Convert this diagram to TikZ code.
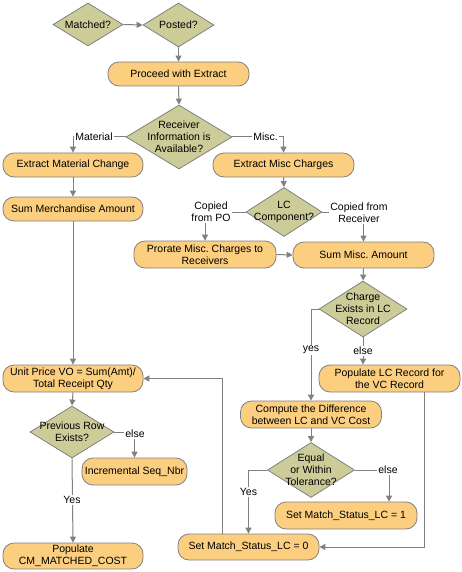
\documentclass[tikz,border=0pt]{standalone}
\usepackage{fontspec}
\setmainfont{Liberation Sans}
\usetikzlibrary{shapes.geometric,arrows.meta}
\definecolor{procfill}{RGB}{252,206,128}
\definecolor{decfill}{RGB}{204,204,153}
\definecolor{edgegray}{RGB}{128,128,128}
\frenchspacing
\begin{document}
\begin{tikzpicture}[x=1pt,y=-1pt,
  font=\fontsize{10.5}{12}\selectfont,
  proc/.style={draw=edgegray, fill=procfill, rounded corners=11pt, inner sep=0pt, align=center, line width=0.8pt},
  dec/.style={draw=edgegray, fill=decfill, diamond, inner sep=0pt, line width=0.8pt},
  arr/.style={draw=edgegray, line width=1pt, -{Triangle[width=6pt,length=6pt]}},
  lbl/.style={fill=white, inner sep=1pt, align=center}]
\useasboundingbox (0,0) rectangle (462,572);

% decisions
\node[dec, minimum width=70pt, minimum height=43pt, label={center:Matched?}] (matched) at (88,24.5) {};
\node[dec, minimum width=71pt, minimum height=44pt, label={center:Posted?}] (posted) at (178.5,25) {};
\node[dec, minimum width=106pt, minimum height=64pt, label={[align=center]center:Receiver\\Information is\\Available?}] (ria) at (179,137) {};
\node[dec, minimum width=76pt, minimum height=49pt, label={[align=center]center:LC\\Component?}] (lc) at (284,212) {};
\node[dec, minimum width=88pt, minimum height=56pt, label={[align=center]center:Charge\\Exists in LC\\Record}] (charge) at (363,309) {};
\node[dec, minimum width=87pt, minimum height=55pt, label={[align=center]center:Equal\\or Within\\Tolerance?}] (equal) at (311,470) {};
\node[dec, minimum width=84pt, minimum height=52pt, label={[align=center]center:Previous Row\\Exists?}] (prev) at (72,432) {};

% processes
\node[proc, minimum width=141pt, minimum height=24pt] (proceed) at (178.5,74) {Proceed with Extract};
\node[proc, minimum width=140pt, minimum height=24pt] (emc) at (73,165) {Extract Material Change};
\node[proc, minimum width=141pt, minimum height=24pt] (emisc) at (283.5,165) {Extract Misc Charges};
\node[proc, minimum width=140pt, minimum height=24pt] (summerch) at (73,209) {Sum Merchandise Amount};
\node[proc, minimum width=142pt, minimum height=27pt] (prorate) at (205,254.5) {Prorate Misc. Charges to\\Receivers};
\node[proc, minimum width=141pt, minimum height=26pt] (summisc) at (363.5,255) {Sum Misc. Amount};
\node[proc, minimum width=141pt, minimum height=27pt] (poplc) at (389.5,378.5) {Populate LC Record for\\the VC Record};
\node[proc, minimum width=140pt, minimum height=27pt] (unit) at (73,378.5) {Unit Price VO = Sum(Amt)/\\Total Receipt Qty};
\node[proc, minimum width=141pt, minimum height=27pt] (compute) at (311,414.5) {Compute the Difference\\between LC and VC Cost};
\node[proc, minimum width=105pt, minimum height=27pt] (inc) at (134.5,471.5) {Incremental Seq\_Nbr};
\node[proc, minimum width=142pt, minimum height=27pt] (set1) at (346,515.5) {Set Match\_Status\_LC = 1};
\node[proc, minimum width=141pt, minimum height=26pt] (set0) at (248.5,547) {Set Match\_Status\_LC = 0};
\node[proc, minimum width=140pt, minimum height=26pt] (popcm) at (73,556) {Populate\\CM\_MATCHED\_COST};

% connectors
\draw[arr] (matched.east) -- (posted.west);
\draw[arr] (posted.south) -- (proceed.north);
\draw[arr] (proceed.south) -- (ria.north);
\draw[arr] (ria.west) -| (emc.north);
\node[lbl] (lmat) at (94,137) {Material};
\draw[arr] (ria.east) -| (emisc.north);
\node[lbl] (lmisc) at (265.5,137) {Misc.};
\draw[arr] (emc.south) -- (summerch.north);
\draw[arr] (summerch.south) -- (unit.north);
\draw[arr] (emisc.south) -- (lc.north);
\draw[arr] (lc.west) -| (prorate.north);
\node[lbl] (lpo) at (211,212) {Copied\\from PO};
\draw[arr] (lc.east) -| (summisc.north);
\node[lbl] (lrec) at (359,213) {Copied from\\Receiver};
\draw[arr] (prorate.east) -- (summisc.west);
\draw[arr] (summisc.south) -- (charge.north);
\draw[arr] (charge.west) -| (compute.north);
\node[lbl] (lyes1) at (311,350) {yes};
\draw[arr] (charge.south) -- (charge.south |- poplc.north);
\node[lbl] (lelse1) at (363,351) {else};
\draw[arr] (compute.south) -- (equal.north);
\draw[arr] (equal.west) -| (set0.north);
\node[lbl] (lyes2) at (248.5,492) {Yes};
\draw[arr] (equal.east) -| ([xshift=43pt]set1.north);
\node[lbl] (lelse2) at (388,470) {else};
\draw[arr] ([xshift=34.5pt]poplc.south) |- (set0.east);
\draw[arr] ([xshift=-26pt]set0.north) |- (unit.east);
\draw[arr] (unit.south) -- (prev.north);
\draw[arr] (prev.east) -| (inc.north);
\node[lbl] (lelse3) at (135,434) {else};
\draw[arr] (prev.south) -- (popcm.north);
\node[lbl] (lyes3) at (72,500) {Yes};
\end{tikzpicture}
\end{document}
